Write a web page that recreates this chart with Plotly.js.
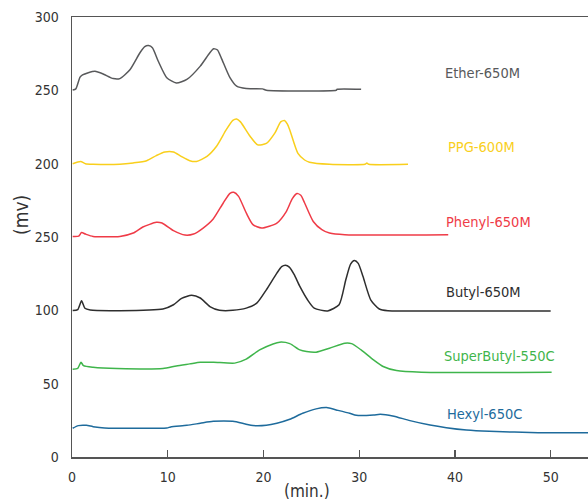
<!DOCTYPE html>
<html><head><meta charset="utf-8">
<script src="https://cdn.plot.ly/plotly-3.0.1.min.js"></script>
<style>html,body{margin:0;padding:0;background:#fff}#c{width:588px;height:502px}</style>
</head><body><div id="c"></div>
<script>
// Chromatogram data (x: min, y: mV)
const etherX = [0.07,0.4,0.84,1.1,1.7,2.4,3.3,4.3,5.0,6.05,7.1,7.6,8.0,8.4,9.0,9.9,10.9,12.0,13.4,14.4,14.8,15.2,15.6,16.5,17.2,18.2,19.9,20.3,27.6,27.7,30.2];
const etherY = [250.3,251,259,260.5,262,263,261,258,258,264,275.6,279.8,280.5,279,270,258.6,255,257.4,266.5,275.6,278.3,277.5,272,258.6,252.8,251.2,251,250.1,250.1,250.7,250.7];

const ppgX = [0.07,0.9,1.4,2.2,5.0,6.4,7.8,8.8,9.7,10.6,11.4,12.3,13.0,14.1,15.1,16.1,16.8,17.2,17.6,18.6,19.4,20.3,21.2,21.8,22.2,22.5,22.75,23.6,24.3,24.8,26.9,30.6,30.8,31.0,35.1];
const ppgY = [200,201.5,200,199.6,199.6,200.5,202,205.5,208,208,205,202,201.5,205,211.9,223,229.5,230.5,228.5,218.7,212.8,213.8,221,228.5,229.4,227,223,207,202.5,201,199.6,199.6,200.4,199.6,199.6];

const phenylX = [0.07,0.7,1.0,1.4,2.2,5.0,6.4,7.4,8.8,9.4,10.6,11.8,12.7,13.7,14.75,15.8,16.5,16.9,17.4,18.2,18.9,19.8,21.4,22.4,23.0,23.5,23.9,24.3,25.2,26.1,26.9,28.5,39.3];
const phenylY = [150.4,150.6,153,152,150.4,150.4,152.7,156.8,160,159.5,154.3,151.3,152,156.1,162.3,173.2,179.8,180.5,177.7,166.4,158.4,156.1,159.5,167.5,176,179.6,178.5,173.2,160.6,155,152.7,151.6,151.6];

const butylX = [0.07,0.6,1.0,1.35,1.9,5.0,9.5,10.6,11.45,12.5,13.4,14.4,15.4,16.8,18.2,19.3,20.3,21.4,21.9,22.3,22.7,23.2,23.8,24.6,25.3,26.7,27.9,28.6,29.1,29.5,29.9,30.4,31.2,32.1,33.0,34.7,50.0];
const butylY = [99.9,100.5,106.5,101.4,100.2,99.8,100.9,103.8,108.1,110.2,108.4,102.6,100.1,100,101.5,104.9,114,125.4,129.8,130.8,129.5,124.5,116.3,107.2,101.5,99.6,103.8,120.8,131.5,134,132,123,107.2,100.9,99.7,99.5,99.5];

const superX = [0.07,0.6,0.94,1.2,2.2,4.7,9.5,10.9,12.3,13.4,14.8,17.0,18.2,19.6,21.0,21.7,22.75,23.8,24.5,25.5,26.9,28.5,29.2,30.2,31.5,32.5,33.9,36.5,50.1];
const superY = [59.9,60.5,64.6,62.3,61.2,60.3,60.3,62.1,63.5,64.6,64.6,64,66.7,73,77.1,78.3,77.3,73,71.9,71.5,74.2,77.6,77.3,73,66.2,61.7,58.9,57.8,57.8];

const hexylX = [0.07,0.66,1.5,2.2,3.4,9.9,10.3,12.0,13.4,14.75,16.8,18.1,18.9,20.3,21.4,22.75,24.1,25.5,26.6,27.6,29.0,29.7,31.5,32.2,33.5,35.3,37.4,39.1,41.2,43.6,48.7,53.9];
const hexylY = [19.6,21.4,21.6,20.7,19.8,19.8,20.5,21.6,23,24.3,24.3,22.5,21.4,21.6,23,25.7,29.8,32.8,33.7,32.1,29.8,28.4,28.6,29.1,28,24.8,21.8,20,18.4,17.5,16.6,16.6];

const seriesNames = ["Ether-650M","PPG-600M","Phenyl-650M","Butyl-650M","SuperButyl-550C","Hexyl-650C"];
const labelX = [42.9,42.8,43.5,43.0,44.7,43.1];
const labelY = [261.5,211.1,160.5,112.3,68.8,29.4];

const yTickVals = [0,50,100,150,200,250,300];
const yTickText = ["0","50","100","250","200","250","300"];
const xTickVals = [0,10,20,30,40,50];
const xTickText = ["0","10","20","30","40","50"];

const colors = ["#58595b","#f9cf1c","#ef3b47","#2e2e2e","#3fb54b","#1e6b9c"];
const xs = [etherX,ppgX,phenylX,butylX,superX,hexylX];
const ys = [etherY,ppgY,phenylY,butylY,superY,hexylY];

const FONT = "'Liberation Sans Narrow','DejaVu Sans Condensed','Roboto Condensed',sans-serif";

const traces = xs.map((x,i)=>({
  x:x, y:ys[i], type:'scatter', mode:'lines', name:seriesNames[i],
  line:{color:colors[i], width:1.5, shape:'spline', smoothing:0.6},
  hoverinfo:'skip'
}));

const annotations = seriesNames.map((n,i)=>({
  x:labelX[i], y:labelY[i], xref:'x', yref:'y', text:n, showarrow:false,
  xanchor:'center', yanchor:'middle',
  font:{family:FONT, size:14.5, color:colors[i]}
}));
annotations.push({xref:'paper', yref:'paper', x:-0.099, y:0.55, text:'(mv)', showarrow:false,
  textangle:-90, xanchor:'center', yanchor:'middle', font:{family:FONT, size:19, color:'#333'}});
annotations.push({xref:'paper', yref:'paper', x:0.455, y:-0.05, text:'(min.)', showarrow:false,
  xanchor:'center', yanchor:'top', font:{family:FONT, size:17, color:'#333'}});

const layout = {
  width:588, height:502,
  margin:{l:72, r:0, t:17, b:45},
  paper_bgcolor:'#fff', plot_bgcolor:'#fff',
  showlegend:false,
  font:{family:FONT, size:14, color:'#333'},
  xaxis:{range:[0,53.9], tickvals:xTickVals, ticktext:xTickText, ticks:'inside', ticklen:7, tickwidth:1.3,
    tickcolor:'#555', showline:true, linecolor:'#555', linewidth:1.5, mirror:true, showgrid:false, zeroline:false,
    ticklabelstandoff:7, tickfont:{family:FONT, size:14, color:'#333'}},
  yaxis:{range:[0,300], tickvals:yTickVals, ticktext:yTickText, ticks:'', showline:true, linecolor:'#555', linewidth:1.5,
    showgrid:false, zeroline:false, ticklabelstandoff:9, tickfont:{family:FONT, size:14, color:'#333'}},
  annotations:annotations
};
Plotly.newPlot('c', traces, layout, {staticPlot:true, displayModeBar:false});
</script></body></html>
